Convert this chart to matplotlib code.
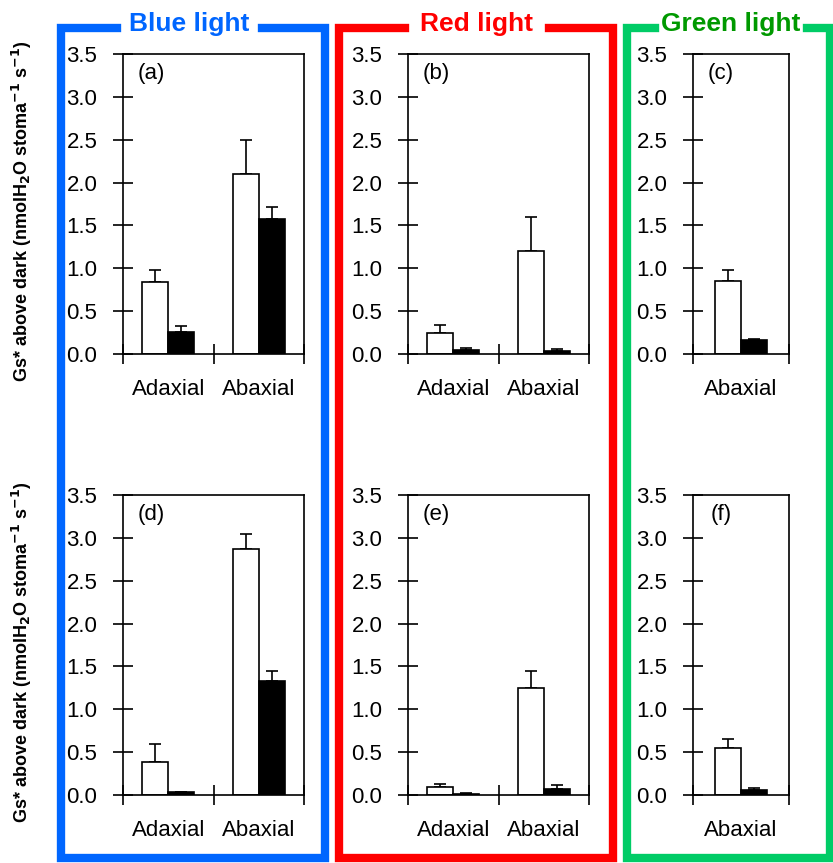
import matplotlib
matplotlib.use("Agg")
import matplotlib.pyplot as plt
from matplotlib.lines import Line2D

plt.rcParams['font.family'] = ['Liberation Sans', 'DejaVu Sans']

W, H = 833, 863

# data: (white, black) means and upper errors
panel_labels = ["(a)", "(b)", "(c)", "(d)", "(e)", "(f)"]
categories_two = ["Adaxial", "Abaxial"]
categories_one = ["Abaxial"]

white_a = [0.84, 2.10]
white_a_err = [0.14, 0.40]
black_a = [0.26, 1.57]
black_a_err = [0.07, 0.15]

white_b = [0.25, 1.20]
white_b_err = [0.09, 0.40]
black_b = [0.05, 0.04]
black_b_err = [0.02, 0.02]

white_c = [0.85]
white_c_err = [0.13]
black_c = [0.16]
black_c_err = [0.02]

white_d = [0.39, 2.87]
white_d_err = [0.21, 0.18]
black_d = [0.03, 1.33]
black_d_err = [0.005, 0.12]

white_e = [0.09, 1.25]
white_e_err = [0.035, 0.20]
black_e = [0.015, 0.065]
black_e_err = [0.005, 0.055]

white_f = [0.55]
white_f_err = [0.10]
black_f = [0.06]
black_f_err = [0.025]

panels = [
    (categories_two, white_a, white_a_err, black_a, black_a_err),
    (categories_two, white_b, white_b_err, black_b, black_b_err),
    (categories_one, white_c, white_c_err, black_c, black_c_err),
    (categories_two, white_d, white_d_err, black_d, black_d_err),
    (categories_two, white_e, white_e_err, black_e, black_e_err),
    (categories_one, white_f, white_f_err, black_f, black_f_err),
]

fig = plt.figure(figsize=(W / 100, H / 100), dpi=100)


def px_rect(x0, y_top, w, h):
    return [x0 / W, 1 - (y_top + h) / H, w / W, h / H]


lefts = [123, 408, 693]
widths = [181, 181, 96]
tops = [54, 495]
height = 300

for i, (cats, wv, we, bv, be) in enumerate(panels):
    row, col = divmod(i, 3)
    ax = fig.add_axes(px_rect(lefts[col], tops[row], widths[col], height))
    n = len(cats)
    bw = 26 / (widths[col] / n)
    centers = [k + 0.5 for k in range(n)]
    ax.bar([c - bw / 2 for c in centers], wv, width=bw, color="white",
           edgecolor="black", linewidth=1.2, zorder=2)
    ax.bar([c + bw / 2 for c in centers], bv, width=bw, color="black",
           edgecolor="black", linewidth=1.2, zorder=2)
    ax.errorbar([c - bw / 2 for c in centers], wv, yerr=[[0] * n, we],
                fmt="none", ecolor="black", elinewidth=1.2, capsize=4.5,
                capthick=1.2, zorder=1)
    ax.errorbar([c + bw / 2 for c in centers], bv, yerr=[[0] * n, be],
                fmt="none", ecolor="black", elinewidth=1.2, capsize=4.5,
                capthick=1.2, zorder=1)
    ax.set_xlim(0, n)
    ax.set_ylim(0, 3.5)
    ax.set_yticks([0, 0.5, 1.0, 1.5, 2.0, 2.5, 3.0, 3.5])
    ax.set_yticklabels(["%.1f" % t for t in ax.get_yticks()], fontsize=16)
    ax.set_xticks(range(n + 1))
    ax.set_xticklabels([])
    ax.set_xticks(centers, minor=True)
    ax.set_xticklabels(cats, minor=True, fontsize=16)
    ax.tick_params(axis="x", which="minor", length=0, pad=18)
    ax.tick_params(axis="both", which="major", direction="inout", length=15,
                   width=1.2)
    ax.tick_params(axis="y", pad=11)
    for s in ax.spines.values():
        s.set_linewidth(1.2)
    ax.text(0.155 if n == 2 else 0.29, 0.935, panel_labels[i],
            transform=ax.transAxes, fontsize=16, ha="center", va="center")

# y labels
ylab = r"Gs* above dark (nmolH$_\mathbf{2}$O stoma$^\mathbf{-1}$ s$^\mathbf{-1}$)"
for yc in [211, 652]:
    fig.text(22 / W, 1 - yc / H, ylab, rotation=90, ha="center", va="center",
             fontsize=13, fontweight="bold")

# coloured frames with titles
frames = [
    ("Blue light", "#0066ff", "#0066ff", 60.5, 324.5, 117, 262),
    ("Red light", "#ff0000", "#ff0000", 339, 612.5, 405, 549),
    ("Green light", "#00cc66", "#009900", 627, 829.5, 655, 807),
]
top_y, bot_y = 28.5, 857.5
for title, fc, tc, xl, xr, g0, g1 in frames:
    xs = [g0, xl, xl, xr, xr, g1]
    ys = [top_y, top_y, bot_y, bot_y, top_y, top_y]
    fig.add_artist(Line2D([x / W for x in xs], [1 - y / H for y in ys],
                          transform=fig.transFigure, color=fc, linewidth=6,
                          solid_joinstyle="miter"))
    fig.text((g0 + g1) / 2 / W, 1 - 24 / H, title, ha="center", va="center",
             fontsize=19, fontweight="bold", color=tc)

fig.savefig("out.png", dpi=100)
